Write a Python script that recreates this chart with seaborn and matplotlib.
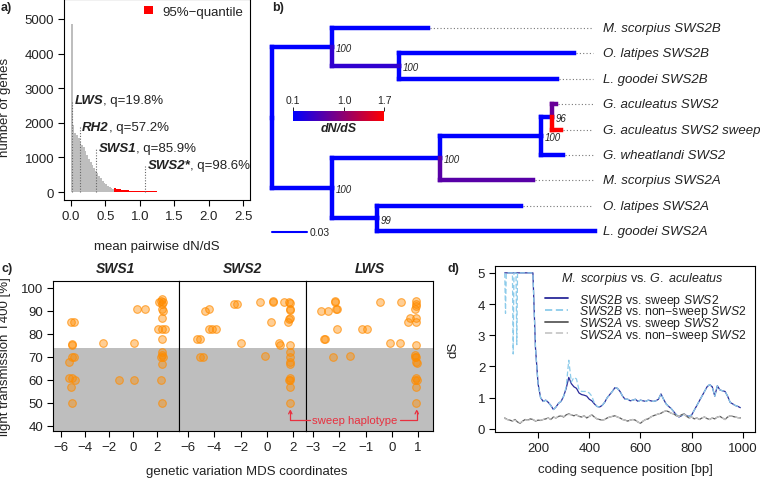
import numpy as np
import pandas as pd
import matplotlib
matplotlib.use("Agg")
import matplotlib.pyplot as plt
import seaborn as sns
from matplotlib.colors import LinearSegmentedColormap, Normalize
from matplotlib.cm import ScalarMappable
from matplotlib.patches import Patch

# ==========================================================
# DATA
# ==========================================================

# a) genome-wide histogram of mean pairwise dN/dS, bins of 0.025
grey_counts = [4850, 1950, 1700, 1640, 1560, 1450, 1370, 1290, 1180, 1060,
               960, 860, 780, 700, 620, 550, 470, 400, 330, 270,
               220, 180, 150, 120, 95]
red_counts = [110, 95, 85, 78, 70, 64, 58, 52, 47, 43,
              40, 37, 34, 31, 29, 27, 25, 23, 22, 20,
              19, 18, 17, 16, 15, 14, 14, 13, 12, 12,
              11, 11, 10, 10, 9, 9, 9, 8, 8, 8,
              7, 7, 7, 6, 6, 6, 6, 5, 5, 5,
              5, 5, 4, 4, 4, 4, 4, 4, 3, 3,
              3, 3, 3, 3, 3, 2, 2, 2, 2, 2,
              2, 2, 2, 2, 2]
opsin_genes = ["LWS", "RH2", "SWS1", "SWS2*"]
opsin_dnds = [0.02, 0.13, 0.37, 1.08]
opsin_quantile = ["19.8%", "57.2%", "85.9%", "98.6%"]

# b) opsin gene tree
tip_order = ["M. scorpius SWS2B", "O. latipes SWS2B", "L. goodei SWS2B",
             "G. aculeatus SWS2", "G. aculeatus SWS2 sweep", "G. wheatlandi SWS2",
             "M. scorpius SWS2A", "O. latipes SWS2A", "L. goodei SWS2A"]
tree_parent = ["root", "root", "nB", "nB", "nOLB", "nOLB", "nA", "nA",
               "nUp", "nUp", "nGa", "nGa", "nAcu", "nAcu", "nOLA", "nOLA"]
tree_child = ["nB", "nA", "M. scorpius SWS2B", "nOLB", "O. latipes SWS2B",
              "L. goodei SWS2B", "nUp", "nOLA", "nGa", "M. scorpius SWS2A",
              "nAcu", "G. wheatlandi SWS2", "G. aculeatus SWS2",
              "G. aculeatus SWS2 sweep", "O. latipes SWS2A", "L. goodei SWS2A"]
branch_length = [0.0514, 0.0514, 0.0823, 0.0575, 0.1500, 0.1354, 0.0926, 0.0386,
                 0.0866, 0.0797, 0.0094, 0.0188, 0.0034, 0.0077, 0.1234, 0.1869]
branch_dnds = [0.1, 0.1, 0.1, 0.4, 0.1, 0.1, 0.1, 0.1,
               0.1, 0.65, 0.1, 0.1, 0.75, 1.7, 0.1, 0.1]
bootstrap = {"nB": 100, "nOLB": 100, "nA": 100, "nUp": 100,
             "nGa": 100, "nAcu": 96, "nOLA": 99}

# c) light transmission vs. genetic variation (MDS)
sws1_mds = [-5.2, -4.95, -5.1, -5.05, -5.1, -5.3, -4.95, -5.3, -5.1, -4.8, -5.2, -5.1,
            -2.5, 0.05, -1.2, 0.05, 0.35, 1.0,
            2.2, 2.35, 2.45, 2.5, 2.4, 2.45, 2.5, 2.45, 2.1, 2.4, 2.7, 2.45,
            2.4, 2.45, 2.35, 2.5, 2.4, 2.3, 2.4]
sws1_t400 = [85, 85, 75, 75.5, 70, 68, 70, 61, 61, 60, 57, 50,
             76, 76, 60, 60, 91, 91,
             94, 94.5, 95, 94, 93, 91, 90, 87, 82, 82, 82, 78,
             72, 71, 70, 70, 67, 60, 50]
sws2_mds = [-4.7, -4.4, -2.5, -2.3, -0.5, 0.5, 0.5, 1.35, 1.7, 1.8, 1.8, 1.8,
            1.8, 1.7, 1.65, 0.3, -4.4, -4.2, -3.9, -5.3, -5.1, -2.0, 0.95, 1.05,
            1.8, -5.1, -4.9, -0.15, 1.8, 1.8, 1.8, 1.8, 1.75, 1.8, 1.7, 1.8, 1.8]
sws2_t400 = [90, 91, 93, 93, 94, 94.5, 94, 94, 94, 93.5, 91, 90.5,
             87, 86.5, 85, 85, 82, 82, 82, 78, 78, 76, 76, 75,
             75, 70, 70, 70.5, 72, 70, 68, 67, 61, 60, 60, 57, 50]
lws_mds = [-2.7, -2.45, -2.15, -2.15, -2.1, -2.12, -0.45, 0.35, 0.92, 0.92, 0.9, 0.93,
           0.92, 0.92, 0.6, 0.68, -2.1, -1.15, -0.95, -2.6, -2.55, -0.05, 0.33,
           0.92, 0.9, 0.93, 0.88, 0.92, 0.95, -2.25, -1.6, 0.92, 0.9, 0.95, 0.92, 0.92]
lws_t400 = [90, 90, 94.5, 94, 91, 91, 94, 94, 94.5, 93, 91, 92,
            87, 85, 85, 87, 82, 82, 82, 78, 78, 76, 76,
            75, 71, 70, 70, 68, 67.5, 70, 70.5, 61, 60, 60, 57, 50]
t400_threshold = 74
sweep_mds = {"SWS2": 1.8, "LWS": 0.95}

# d) sliding-window dS along the coding sequence
cds_pos = list(range(70, 1000, 10))
ds_2b_sweep = [5, 5, 5, 5, 5, 5, 5, 5, 5, 5, 5, 5,
               2.6, 1.45, 1.0, 0.88, 0.92, 0.85, 0.75, 0.62, 0.7, 0.82,
               0.88, 1.05, 1.3, 1.65, 1.45, 1.35, 1.3, 1.15, 1.1, 1.08,
               1.05, 0.95, 0.9, 0.8, 0.72, 0.7, 0.75, 0.85, 1.0, 1.1,
               1.2, 1.32, 1.3, 1.2, 1.05, 0.95, 0.95, 0.9, 0.92, 0.95,
               0.88, 0.92, 0.9, 0.88, 0.92, 0.9, 0.88, 0.9, 0.95, 1.12,
               0.95, 0.8, 0.72, 0.65, 0.55, 0.45, 0.38, 0.42, 0.48, 0.42,
               0.4, 0.45, 0.6, 0.75, 0.9, 1.05, 1.2, 1.35, 1.42, 1.35,
               1.05, 1.38, 1.25, 1.22, 1.2, 1.05, 0.85, 0.8, 0.75, 0.72,
               0.68]
ns_pos = [70, 73, 76, 90, 100, 103, 106, 114, 117, 120] + list(range(130, 1000, 10))
ds_2b_nonsweep = [5, 3.7, 5, 5, 5, 2.4, 5, 5, 2.7, 5,
                  5, 5, 5, 5, 5, 5,
                  2.6, 1.45, 1.0, 0.88, 0.92, 0.85, 0.75, 0.62, 0.7, 0.82,
                  0.88, 1.05, 1.35, 2.2, 1.5, 1.65, 1.6, 1.25, 1.2, 1.2,
                  1.2, 1.15, 1.05, 0.82, 0.72, 0.7, 0.75, 0.85, 1.0, 1.1,
                  1.2, 1.32, 1.3, 1.2, 1.05, 0.95, 0.95, 0.9, 0.92, 0.95,
                  0.88, 0.92, 0.9, 0.88, 0.92, 0.9, 0.88, 0.9, 0.95, 1.12,
                  0.95, 0.8, 0.72, 0.65, 0.55, 0.45, 0.38, 0.42, 0.48, 0.42,
                  0.4, 0.45, 0.6, 0.75, 0.9, 1.05, 1.2, 1.35, 1.42, 1.35,
                  1.05, 1.38, 1.25, 1.22, 1.2, 1.05, 0.85, 0.8, 0.75, 0.72,
                  0.68]
ds_2a_sweep = [0.35, 0.3, 0.28, 0.25, 0.3, 0.22, 0.18, 0.25, 0.3, 0.28,
               0.32, 0.3, 0.25, 0.28, 0.27, 0.3, 0.32, 0.35, 0.3, 0.38,
               0.35, 0.4, 0.42, 0.38, 0.45, 0.48, 0.45, 0.42, 0.45, 0.4,
               0.38, 0.42, 0.35, 0.4, 0.45, 0.38, 0.32, 0.3, 0.28, 0.3,
               0.35, 0.38, 0.4, 0.42, 0.38, 0.35, 0.3, 0.28, 0.25, 0.28,
               0.3, 0.28, 0.22, 0.18, 0.25, 0.3, 0.32, 0.38, 0.42, 0.45,
               0.48, 0.5, 0.55, 0.58, 0.55, 0.5, 0.48, 0.42, 0.4, 0.45,
               0.48, 0.4, 0.35, 0.38, 0.32, 0.35, 0.3, 0.35, 0.38, 0.33,
               0.3, 0.35, 0.32, 0.38, 0.4, 0.35, 0.3, 0.38, 0.42, 0.4,
               0.38, 0.36, 0.35]
ds_2a_nonsweep = [0.33, 0.3, 0.27, 0.26, 0.28, 0.22, 0.2, 0.24, 0.3, 0.27,
                  0.3, 0.3, 0.26, 0.28, 0.28, 0.3, 0.33, 0.34, 0.31, 0.37,
                  0.36, 0.4, 0.43, 0.4, 0.44, 0.46, 0.45, 0.43, 0.44, 0.41,
                  0.38, 0.42, 0.35, 0.4, 0.45, 0.38, 0.32, 0.3, 0.28, 0.3,
                  0.35, 0.38, 0.4, 0.42, 0.38, 0.35, 0.3, 0.28, 0.25, 0.28,
                  0.3, 0.28, 0.22, 0.18, 0.25, 0.3, 0.32, 0.38, 0.42, 0.45,
                  0.48, 0.5, 0.55, 0.58, 0.55, 0.5, 0.48, 0.42, 0.4, 0.45,
                  0.48, 0.4, 0.35, 0.38, 0.32, 0.35, 0.3, 0.35, 0.38, 0.33,
                  0.3, 0.35, 0.32, 0.38, 0.4, 0.35, 0.3, 0.38, 0.42, 0.4,
                  0.38, 0.36, 0.35]

# ==========================================================
# STYLE
# ==========================================================

sns.set_theme(style="ticks")
plt.rcParams["font.family"] = ["Liberation Sans", "DejaVu Sans"]
plt.rcParams.update({
    "mathtext.fontset": "custom",
    "mathtext.rm": "Liberation Sans",
    "mathtext.it": "Liberation Sans:italic",
    "mathtext.bf": "Liberation Sans:bold",
    "axes.edgecolor": "black",
    "axes.linewidth": 0.8,
    "xtick.color": "black",
    "ytick.color": "black",
    "xtick.labelcolor": "#222222",
    "ytick.labelcolor": "#222222",
    "xtick.major.size": 4,
    "ytick.major.size": 4,
    "xtick.major.width": 0.8,
    "ytick.major.width": 0.8,
    "xtick.major.pad": 3,
    "ytick.major.pad": 3,
    "xtick.labelsize": 9.5,
    "ytick.labelsize": 9.5,
    "axes.labelsize": 9.5,
    "text.color": "#222222",
    "axes.labelcolor": "#222222",
})

W, H = 760, 481
fig = plt.figure(figsize=(W / 100, H / 100), dpi=100)


def px_axes(left, top, right, bottom):
    return fig.add_axes([left / W, 1 - bottom / H, (right - left) / W, (bottom - top) / H])


# ==========================================================
# a) HISTOGRAM
# ==========================================================

ax_a = px_axes(64, 0, 250, 201)
grey_edges = np.linspace(0, 0.625, len(grey_counts) + 1)
red_edges = np.linspace(0.625, 2.5, len(red_counts) + 1)
grey_df = pd.DataFrame({"dnds": (grey_edges[:-1] + grey_edges[1:]) / 2, "n": grey_counts})
red_df = pd.DataFrame({"dnds": (red_edges[:-1] + red_edges[1:]) / 2, "n": red_counts})
sns.histplot(data=grey_df, x="dnds", weights="n", bins=list(grey_edges),
             color="#bebebe", alpha=1, linewidth=0, ax=ax_a)
sns.histplot(data=red_df, x="dnds", weights="n", bins=list(red_edges),
             color="#ff0000", alpha=1, linewidth=0, ax=ax_a)

label_base = [2570, 1795, 1185, 694]
for gene, xv, yb, q in zip(opsin_genes, opsin_dnds, label_base, opsin_quantile):
    ax_a.plot([xv, xv], [0, yb + 70], color="#666666", lw=0.8, ls=(0, (1, 1.5)))
    t = ax_a.annotate(gene, xy=(xv, yb), xytext=(1.5, 0), textcoords="offset points",
                      fontsize=9.5, fontweight="bold", fontstyle="italic",
                      va="baseline", ha="left")
    ax_a.annotate(f", q={q}", xy=(1, 0), xycoords=t, fontsize=9.5,
                  va="bottom", ha="left")

ax_a.legend(handles=[Patch(facecolor="#ff0000", edgecolor="none", label="95%\u2212quantile")],
            loc="upper right", frameon=False, fontsize=9.5, handlelength=0.65,
            handleheight=0.65, handletextpad=0.75, borderaxespad=0.1)
ax_a.set_xlim(-0.1, 2.6)
ax_a.set_ylim(-231, 5578)
ax_a.set_xticks([0, 0.5, 1.0, 1.5, 2.0, 2.5])
ax_a.set_xticklabels(["0.0", "0.5", "1.0", "1.5", "2.0", "2.5"])
ax_a.set_yticks([0, 1000, 2000, 3000, 4000, 5000])
ax_a.set_xlabel("mean pairwise dN/dS")
ax_a.set_ylabel("number of genes")
ax_a.xaxis.set_label_coords(0.5, -0.2)
ax_a.yaxis.set_label_coords(-0.285, 0.465)

# ==========================================================
# b) TREE
# ==========================================================

ax_b = px_axes(262, 15, 760, 245)
ax_b.set_xlim(-0.00857, 0.4183)
ax_b.set_ylim(8.504, -0.551)
ax_b.axis("off")

cmap = LinearSegmentedColormap.from_list("dnds", ["#0000ff", "#ff0000"])
norm = Normalize(0.1, 1.7)

children = {}
for p, c in zip(tree_parent, tree_child):
    children.setdefault(p, []).append(c)
node_x = {"root": 0.0}
for p, c, L in zip(tree_parent, tree_child, branch_length):
    node_x[c] = node_x[p] + L
node_y = {name: i for i, name in enumerate(tip_order)}


def place(n):
    if n not in node_y:
        ys = [place(c) for c in children[n]]
        node_y[n] = (min(ys) + max(ys)) / 2
    return node_y[n]


place("root")

dots_end, label_x = 0.2751, 0.2837
for tip in tip_order:
    if node_x[tip] < dots_end:
        ax_b.plot([node_x[tip] + 0.002, dots_end], [node_y[tip]] * 2,
                  color="#777777", lw=0.8, ls=(0, (1, 2)))
    ax_b.text(label_x, node_y[tip], tip, fontsize=9.5, fontstyle="italic",
              va="center", ha="left")

for p, c, d in sorted(zip(tree_parent, tree_child, branch_dnds), key=lambda e: e[2]):
    col = cmap(norm(d))
    ax_b.plot([node_x[p], node_x[c]], [node_y[c]] * 2, color=col, lw=3.2,
              solid_capstyle="projecting")
    ax_b.plot([node_x[p]] * 2, [node_y[p], node_y[c]], color=col, lw=3.2,
              solid_capstyle="projecting")

for n, v in bootstrap.items():
    ax_b.annotate(str(v), xy=(node_x[n], node_y[n]), xytext=(3, -0.8),
                  textcoords="offset points", fontsize=7, fontstyle="italic",
                  va="center", ha="left")

scale_len = 0.03
ax_b.plot([0, scale_len], [8.03, 8.03], color="#0000ff", lw=1.5)
ax_b.text(scale_len + 0.002, 8.03, f"{scale_len}", fontsize=7.5, va="center")

cax = px_axes(293, 112, 384, 122)
cb = fig.colorbar(ScalarMappable(norm=norm, cmap=cmap), cax=cax,
                  orientation="horizontal", ticks=[0.1, 1.0, 1.7])
cb.outline.set_visible(False)
cax.xaxis.set_ticks_position("top")
cax.set_xticklabels(["0.1", "1.0", "1.7"])
cax.tick_params(axis="x", length=3, width=0.6, labelsize=7.5, pad=1)
cax.xaxis.set_label_position("bottom")
cax.set_xlabel("dN/dS", fontsize=9, fontweight="bold", fontstyle="italic", labelpad=1)

# ==========================================================
# c) LIGHT TRANSMISSION VS MDS
# ==========================================================

c_panels = [("SWS1", sws1_mds, sws1_t400, (53, 179), (-6.67, 3.83), [-6, -4, -2, 0, 2]),
            ("SWS2", sws2_mds, sws2_t400, (179, 306), (-6.7, 3.0), [-6, -4, -2, 0, 2]),
            ("LWS", lws_mds, lws_t400, (306, 433), (-3.27, 1.57), [-3, -2, -1, 0, 1])]
c_axes = {}
for gene, xs, ys, (l, r), xlim, ticks in c_panels:
    ax = px_axes(l, 282, r, 432)
    c_axes[gene] = ax
    ax.axhspan(30, t400_threshold, color="#bebebe", lw=0, zorder=0)
    sns.scatterplot(x=xs, y=ys, ax=ax, s=30, color="#ff8c00", legend=False, zorder=3)
    coll = ax.collections[-1]
    coll.set_facecolor((1, 0.55, 0, 0.42))
    coll.set_edgecolor((1, 0.55, 0, 0.7))
    coll.set_linewidth(0.8)
    ax.set_xlim(*xlim)
    ax.set_ylim(37.8, 103)
    ax.set_xticks(ticks)
    ax.set_yticks([40, 50, 60, 70, 80, 90, 100])
    ax.set_title(gene, fontsize=10, fontweight="bold", fontstyle="italic", pad=6.5)
    if gene != "SWS1":
        ax.tick_params(axis="y", left=False, labelleft=False)

c_axes["SWS1"].set_ylabel("light transmission T400 [%]")
c_axes["SWS1"].yaxis.set_label_coords(-0.33, 0.5)
fig.text(247 / W, 1 - 472 / H, "genetic variation MDS coordinates",
         fontsize=9.5, ha="center", va="center")

sweep_red = "#e8303f"
ax_lws = c_axes["LWS"]
ax_lws.text(-1.4, 42.6, "sweep haplotype", color=sweep_red, fontsize=8.2,
            ha="center", va="center")
arrow_kw = dict(arrowstyle="->", color=sweep_red, lw=0.9, shrinkA=0, shrinkB=0,
                mutation_scale=6, connectionstyle="angle,angleA=0,angleB=90,rad=0")
ax_lws.annotate("", xy=(sweep_mds["SWS2"], 47.3), xycoords=c_axes["SWS2"].transData,
                xytext=(-3.11, 42.6), textcoords=ax_lws.transData, arrowprops=arrow_kw)
ax_lws.annotate("", xy=(sweep_mds["LWS"], 47.3), xycoords=ax_lws.transData,
                xytext=(0.31, 42.6), textcoords=ax_lws.transData, arrowprops=arrow_kw)

# ==========================================================
# d) dS ALONG CODING SEQUENCE
# ==========================================================

ax_d = px_axes(495, 267, 755, 433)
sns.lineplot(x=cds_pos, y=ds_2b_sweep, ax=ax_d, color="#2a2a9a", lw=0.9,
             label=r"$\mathit{SWS2B}$ vs. sweep $\mathit{SWS2}$")
sns.lineplot(x=ns_pos, y=ds_2b_nonsweep, ax=ax_d, color="#8ccbea", lw=0.9,
             linestyle=(0, (4, 2)),
             label=r"$\mathit{SWS2B}$ vs. non$-$sweep $\mathit{SWS2}$")
sns.lineplot(x=cds_pos, y=ds_2a_sweep, ax=ax_d, color="#5a5a5a", lw=0.9,
             label=r"$\mathit{SWS2A}$ vs. sweep $\mathit{SWS2}$")
sns.lineplot(x=cds_pos, y=ds_2a_nonsweep, ax=ax_d, color="#c8c8c8", lw=0.9,
             linestyle=(0, (4, 2)),
             label=r"$\mathit{SWS2A}$ vs. non$-$sweep $\mathit{SWS2}$")
ax_d.text(0.569, 0.93, r"$\mathit{M.\ scorpius}$ vs. $\mathit{G.\ aculeatus}$",
          transform=ax_d.transAxes, fontsize=9, ha="center", va="center")
leg = ax_d.legend(loc="upper left", bbox_to_anchor=(0.192, 0.845), frameon=False,
                  fontsize=8.8, labelspacing=-0.36, handlelength=1.85,
                  handletextpad=0.95, borderpad=0, borderaxespad=0)
for line in leg.get_lines():
    line.set_linewidth(1.3)
ax_d.set_xlim(32, 1047)
ax_d.set_ylim(-0.1, 5.22)
ax_d.set_xticks([200, 400, 600, 800, 1000])
ax_d.set_yticks([0, 1, 2, 3, 4, 5])
ax_d.set_xlabel("coding sequence position [bp]")
ax_d.set_ylabel("dS")
ax_d.xaxis.set_label_coords(0.5, -0.187)
ax_d.yaxis.set_label_coords(-0.138, 0.5)

# panel letters
for letter, x, y in [("a)", 1, 8), ("b)", 272, 8), ("c)", 1, 269), ("d)", 448, 269)]:
    fig.text(x / W, 1 - y / H, letter, fontsize=9, fontweight="bold", va="center", ha="left")

fig.savefig("out.png", dpi=100)
